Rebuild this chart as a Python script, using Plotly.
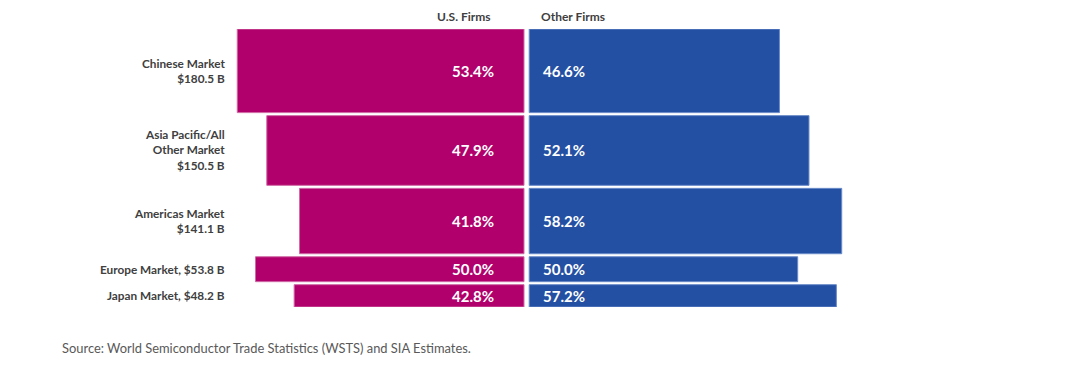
import plotly.graph_objects as go

# ---- data ----
markets = ["Chinese Market", "Asia Pacific/All<br>Other Market", "Americas Market",
           "Europe Market", "Japan Market"]
market_size_b = [180.5, 150.5, 141.1, 53.8, 48.2]
label_sep = ["<br>", "<br>", "<br>", ", ", ", "]
us_share = [53.4, 47.9, 41.8, 50.0, 42.8]
other_share = [46.6, 52.1, 58.2, 50.0, 57.2]
series_names = ["U.S. Firms", "Other Firms"]
source_text = "Source: World Semiconductor Trade Statistics (WSTS) and SIA Estimates."

# ---- style ----
OFF = 8  # page body margin
W, H = 1080 - OFF, 375 - OFF
PX_PER_PCT = 5.37
CENTER_PX = 526.6 - OFF
HALF_GAP = 2.6 / PX_PER_PCT
ROW_GAP = 6.5
MAGENTA = "#B1006B"
BLUE = "#2450A4"
FONT = "Lato"
LABEL_COLOR = "#404040"
PLOT_TOP = 29.3 - OFF
PLOT_BOTTOM = 306.7 - OFF

# y positions (centers) from cumulative market sizes
centers = []
acc = 0.0
for s in market_size_b:
    centers.append(acc + s / 2)
    acc += s + ROW_GAP
y_total = acc - ROW_GAP

x_left = -CENTER_PX / PX_PER_PCT
x_right = (W - CENTER_PX) / PX_PER_PCT

fig = go.Figure()
fig.add_trace(go.Bar(
    orientation="h", y=centers, x=us_share,
    base=[-(v + HALF_GAP) for v in us_share],
    width=market_size_b, name=series_names[0],
    marker=dict(color=MAGENTA, line=dict(color="#D06AA6", width=1)),
    hoverinfo="skip",
))
fig.add_trace(go.Bar(
    orientation="h", y=centers, x=other_share,
    base=[HALF_GAP] * len(other_share),
    width=market_size_b, name=series_names[1],
    marker=dict(color=BLUE, line=dict(color="#6A8BC8", width=1)),
    hoverinfo="skip",
))

annotations = []
for i, (m, s) in enumerate(zip(markets, market_size_b)):
    annotations.append(dict(
        text=f"<b>{m}{label_sep[i]}${s} B</b>", xref="paper", yref="y",
        x=(226.7 - OFF) / W, y=centers[i], xanchor="right", yanchor="middle",
        align="right", showarrow=False,
        font=dict(family=FONT, size=11.8, color=LABEL_COLOR),
    ))
    annotations.append(dict(
        text=f"<b>{us_share[i]:.1f}%</b>", xref="x", yref="y",
        x=-HALF_GAP - 28 / PX_PER_PCT, y=centers[i], xanchor="right",
        yanchor="middle", showarrow=False,
        font=dict(family=FONT, size=15, color="white"),
    ))
    annotations.append(dict(
        text=f"<b>{other_share[i]:.1f}%</b>", xref="x", yref="y",
        x=HALF_GAP + 12 / PX_PER_PCT, y=centers[i], xanchor="left",
        yanchor="middle", showarrow=False,
        font=dict(family=FONT, size=15, color="white"),
    ))

HEADER_CENTER = 9.0  # figure px from top
annotations.append(dict(
    text=f"<b>{series_names[0]}</b>", xref="x", yref="paper",
    x=-HALF_GAP - 32 / PX_PER_PCT, y=1, xanchor="right", yanchor="middle",
    yshift=PLOT_TOP - HEADER_CENTER, borderpad=0, showarrow=False,
    font=dict(family=FONT, size=12, color=LABEL_COLOR),
))
annotations.append(dict(
    text=f"<b>{series_names[1]}</b>", xref="x", yref="paper",
    x=HALF_GAP + 11 / PX_PER_PCT, y=1, xanchor="left", yanchor="middle",
    yshift=PLOT_TOP - HEADER_CENTER, borderpad=0, showarrow=False,
    font=dict(family=FONT, size=12, color=LABEL_COLOR),
))
annotations.append(dict(
    text=source_text, xref="paper", yref="paper",
    x=(60 - OFF) / W, y=0, xanchor="left", yanchor="middle", yshift=-41.3,
    showarrow=False, font=dict(family=FONT, size=12.9, color="#595959"),
))

fig.update_layout(
    width=W, height=H,
    margin=dict(l=0, r=0, t=PLOT_TOP, b=H - PLOT_BOTTOM, pad=0),
    paper_bgcolor="white", plot_bgcolor="white",
    barmode="overlay", showlegend=False,
    xaxis=dict(range=[x_left, x_right], visible=False, fixedrange=True),
    yaxis=dict(range=[y_total, 0], visible=False, fixedrange=True),
    annotations=annotations,
)

fig.write_html("out.html")
